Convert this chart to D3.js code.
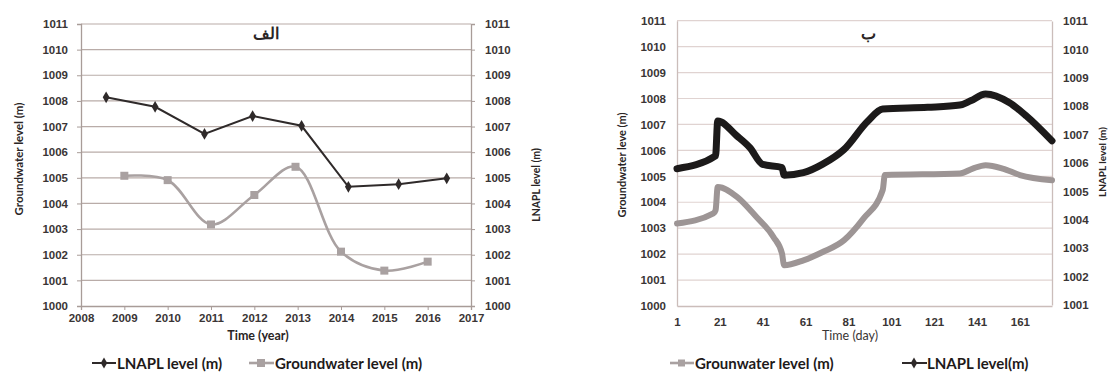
<!DOCTYPE html>
<html>
<head>
<meta charset="utf-8">
<script src="https://cdn.jsdelivr.net/npm/d3@7"></script>
<style>
  body { margin: 0; background: #fff; }
  svg { display: block; font-family: Lato, "Open Sans", sans-serif; }
  .tick-label { font-size: 11.5px; font-weight: bold; fill: #3a3535; }
  .axis-title { font-weight: bold; fill: #2a2525; }
  .legend-text { font-size: 15px; font-weight: bold; fill: #1e1a1a; }
</style>
</head>
<body>
<div id="chart"></div>
<script>
// Panel "الف": yearly levels
var leftYearsLnapl = [2008.58, 2009.71, 2010.85, 2011.96, 2013.09, 2014.17, 2015.33, 2016.44];
var leftLnapl = [1008.14, 1007.77, 1006.71, 1007.41, 1007.03, 1004.65, 1004.75, 1004.98];
var leftYearsGw = [2009, 2010, 2011, 2012, 2012.95, 2014, 2015, 2016];
var leftGw = [1005.08, 1004.91, 1003.18, 1004.33, 1005.43, 1002.12, 1001.38, 1001.73];
var leftYearTicks = [2008, 2009, 2010, 2011, 2012, 2013, 2014, 2015, 2016, 2017];

// Panel "ب": daily levels
var rightDaysGw = [1, 18, 19, 20, 29, 38, 46, 50, 51, 60, 69, 79, 88, 97, 98, 133, 139, 145, 153, 161, 176];
var rightGw = [1003.18, 1003.57, 1003.69, 1004.59, 1004.21, 1003.44, 1002.66, 1002.02, 1001.57, 1001.76,
  1002.08, 1002.54, 1003.37, 1004.47, 1005.05, 1005.11, 1005.30, 1005.43, 1005.30, 1005.05, 1004.85];
var rightDaysLnapl = [1, 19, 20, 29, 35, 41, 50, 51, 60, 69, 79, 90, 97, 118, 133, 138, 145, 156, 164, 176];
var rightLnapl = [1005.80, 1006.25, 1007.48, 1006.95, 1006.54, 1005.95, 1005.84, 1005.57, 1005.66, 1005.96,
  1006.48, 1007.47, 1007.90, 1007.96, 1008.04, 1008.19, 1008.43, 1008.13, 1007.66, 1006.78];
var rightDayTicks = [1, 21, 41, 61, 81, 101, 121, 141, 161];

var levelTicks = d3.range(1000, 1012);
var levelTicksRight = d3.range(1001, 1012);

var svg = d3.select('#chart').append('svg').attr('width', 1109).attr('height', 374);

// ---------- left panel ----------
var lx = d3.scaleLinear().domain([2008, 2017]).range([81, 471]);
var ly = d3.scaleLinear().domain([1000, 1011]).range([306, 24]);
var left = svg.append('g');

left.append('g').selectAll('line').data(levelTicks.slice(1)).join('line')
  .attr('x1', 81).attr('x2', 471)
  .attr('y1', (d) => ly(d)).attr('y2', (d) => ly(d))
  .attr('stroke', '#b9aca8').attr('stroke-width', 1.2);

var lxAxis = left.append('g').attr('transform', 'translate(0,306)')
  .call(d3.axisBottom(lx).tickValues(leftYearTicks).tickFormat(d3.format('d')).tickSize(4).tickPadding(4));
var lyAxis = left.append('g').attr('transform', 'translate(81,0)')
  .call(d3.axisLeft(ly).tickValues(levelTicks).tickFormat(d3.format('d')).tickSize(4).tickPadding(9));
var lyAxisR = left.append('g').attr('transform', 'translate(471,0)')
  .call(d3.axisRight(ly).tickValues(levelTicks).tickFormat(d3.format('d')).tickSize(4).tickPadding(10));
[lxAxis, lyAxis, lyAxisR].forEach(function (a) {
  a.select('.domain').attr('stroke', '#a89c98').attr('stroke-width', 1.3);
  a.selectAll('.tick line').attr('stroke', '#a89c98');
  a.selectAll('.tick text').attr('class', 'tick-label').attr('fill', null);
});

left.append('path')
  .datum(leftYearsGw.map((d, i) => [d, leftGw[i]]))
  .attr('fill', 'none').attr('stroke', '#a9a1a1').attr('stroke-width', 2.6)
  .attr('d', d3.line().x((d) => lx(d[0])).y((d) => ly(d[1])).curve(d3.curveCatmullRom));
left.append('g').selectAll('rect').data(leftYearsGw).join('rect')
  .attr('x', (d) => lx(d) - 4).attr('y', (d, i) => ly(leftGw[i]) - 4)
  .attr('width', 8).attr('height', 8).attr('fill', '#a9a1a1');

left.append('path')
  .datum(leftYearsLnapl.map((d, i) => [d, leftLnapl[i]]))
  .attr('fill', 'none').attr('stroke', '#2f2a2a').attr('stroke-width', 2)
  .attr('d', d3.line().x((d) => lx(d[0])).y((d) => ly(d[1])));
left.append('g').selectAll('path').data(leftYearsLnapl).join('path')
  .attr('d', d3.symbol(d3.symbolDiamond, 40))
  .attr('transform', (d, i) => `translate(${lx(d)},${ly(leftLnapl[i])})`)
  .attr('fill', '#2f2a2a');

left.append('text').attr('x', 266).attr('y', 39).attr('text-anchor', 'middle')
  .attr('class', 'axis-title').style('font-size', '16px').text('الف');
left.append('text').attr('transform', 'translate(23,159) rotate(-90)').attr('text-anchor', 'middle')
  .attr('class', 'axis-title').style('font-size', '11.5px').text('Groundwater level (m)');
left.append('text').attr('transform', 'translate(540,185) rotate(-90)').attr('text-anchor', 'middle')
  .attr('class', 'axis-title').style('font-size', '10.5px').text('LNAPL level (m)');
left.append('text').attr('x', 258).attr('y', 340).attr('text-anchor', 'middle')
  .attr('class', 'axis-title').style('font-size', '12.5px').text('Time (year)');

// legend
left.append('line').attr('x1', 92).attr('x2', 116).attr('y1', 363).attr('y2', 363)
  .attr('stroke', '#2f2a2a').attr('stroke-width', 2);
left.append('path').attr('d', d3.symbol(d3.symbolDiamond, 36)).attr('transform', 'translate(104,363)').attr('fill', '#2f2a2a');
left.append('text').attr('x', 117).attr('y', 368.5).attr('class', 'legend-text').text('LNAPL level (m)');
left.append('line').attr('x1', 249).attr('x2', 274).attr('y1', 363).attr('y2', 363)
  .attr('stroke', '#a9a1a1').attr('stroke-width', 2.6);
left.append('rect').attr('x', 257).attr('y', 359).attr('width', 8).attr('height', 8).attr('fill', '#a9a1a1');
left.append('text').attr('x', 275).attr('y', 368.5).attr('class', 'legend-text').text('Groundwater level (m)');

// ---------- right panel ----------
var rx = d3.scaleLinear().domain([1, 176]).range([677, 1052]);
var ry = d3.scaleLinear().domain([1000, 1011]).range([306, 20.7]);
var ryR = d3.scaleLinear().domain([1001, 1011]).range([305, 21]);
var right = svg.append('g');

right.append('g').selectAll('line').data(levelTicks.slice(1)).join('line')
  .attr('x1', 677).attr('x2', 1052)
  .attr('y1', (d) => ry(d)).attr('y2', (d) => ry(d))
  .attr('stroke', '#e0d3d1').attr('stroke-width', 1.2);

var rxAxis = right.append('g').attr('transform', 'translate(0,306)')
  .call(d3.axisBottom(rx).tickValues(rightDayTicks).tickFormat(d3.format('d')).tickSize(0).tickPadding(12));
var ryAxis = right.append('g').attr('transform', 'translate(677,0)')
  .call(d3.axisLeft(ry).tickValues(levelTicks).tickFormat(d3.format('d')).tickSize(0).tickPadding(11));
var ryAxisR = right.append('g').attr('transform', 'translate(1052,0)')
  .call(d3.axisRight(ryR).tickValues(levelTicksRight).tickFormat(d3.format('d')).tickSize(0).tickPadding(11));
[rxAxis, ryAxis, ryAxisR].forEach(function (a) {
  a.select('.domain').attr('stroke', '#cbbdba').attr('stroke-width', 1.3);
  a.selectAll('.tick text').attr('class', 'tick-label').attr('fill', null);
});

right.append('path')
  .datum(rightDaysGw.map((d, i) => [d, rightGw[i]]))
  .attr('fill', 'none').attr('stroke', '#9d9595').attr('stroke-width', 6)
  .attr('stroke-linejoin', 'round').attr('stroke-linecap', 'round')
  .attr('d', d3.line().x((d) => rx(d[0])).y((d) => ry(d[1])).curve(d3.curveMonotoneX));
right.append('path')
  .datum(rightDaysLnapl.map((d, i) => [d, rightLnapl[i]]))
  .attr('fill', 'none').attr('stroke', '#1c1a1a').attr('stroke-width', 7)
  .attr('stroke-linejoin', 'round').attr('stroke-linecap', 'round')
  .attr('d', d3.line().x((d) => rx(d[0])).y((d) => ryR(d[1])).curve(d3.curveMonotoneX));

right.append('text').attr('x', 868).attr('y', 39).attr('text-anchor', 'middle')
  .attr('class', 'axis-title').style('font-size', '16px').text('ب');
right.append('text').attr('transform', 'translate(626,165) rotate(-90)').attr('text-anchor', 'middle')
  .attr('class', 'axis-title').style('font-size', '11px').text('Groundwater leve (m)');
right.append('text').attr('transform', 'translate(1106,162) rotate(-90)').attr('text-anchor', 'middle')
  .attr('class', 'axis-title').style('font-size', '10px').text('LNAPL level (m)');
right.append('text').attr('x', 850).attr('y', 340).attr('text-anchor', 'middle')
  .style('font-size', '12.5px').style('fill', '#3a3535').text('Time (day)');

right.append('line').attr('x1', 670).attr('x2', 694).attr('y1', 363).attr('y2', 363)
  .attr('stroke', '#a9a1a1').attr('stroke-width', 2.6);
right.append('rect').attr('x', 678).attr('y', 359.5).attr('width', 7).attr('height', 7).attr('fill', '#a9a1a1');
right.append('text').attr('x', 695).attr('y', 368.5).attr('class', 'legend-text').text('Grounwater level (m)');
right.append('line').attr('x1', 902).attr('x2', 927).attr('y1', 363).attr('y2', 363)
  .attr('stroke', '#2f2a2a').attr('stroke-width', 2);
right.append('path').attr('d', d3.symbol(d3.symbolDiamond, 36)).attr('transform', 'translate(914,363)').attr('fill', '#2f2a2a');
right.append('text').attr('x', 927).attr('y', 368.5).attr('class', 'legend-text').text('LNAPL level(m)');
</script>
</body>
</html>
